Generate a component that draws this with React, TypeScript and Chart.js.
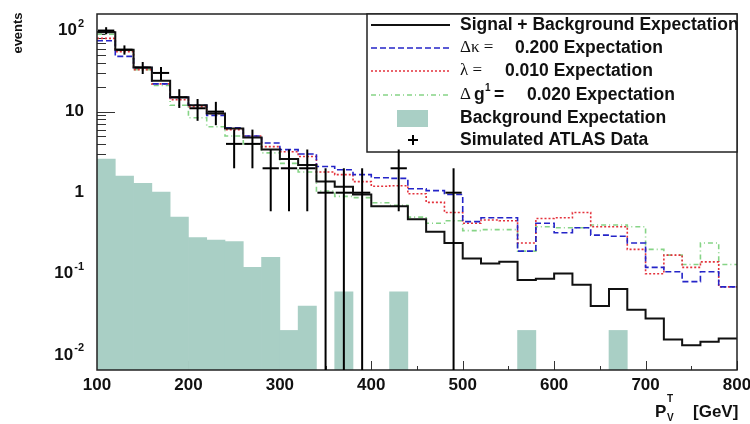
import React, { useEffect, useRef } from "react";
import { Chart, registerables } from "chart.js";

Chart.register(...registerables);

// ---------- data ----------
const binEdges = [
  100, 120, 140, 160, 180, 200, 220, 240, 260, 280, 300, 320, 340, 360, 380, 400, 420, 440,
  460, 480, 500, 520, 540, 560, 580, 600, 620, 640, 660, 680, 700, 720, 740, 760, 780, 800,
];

const signalPlusBkg = [
  95, 58, 35, 24, 15, 12, 9.5, 6.2, 4.8, 3.4,
  2.6, 2.2, 1.37, 1.18, 0.95, 0.68, 0.68, 0.47, 0.33, 0.24,
  0.154, 0.134, 0.141, 0.084, 0.087, 0.101, 0.073, 0.04, 0.065, 0.036,
  0.028, 0.0155, 0.0131, 0.0145, 0.0159,
];

const deltaKappaExp = [
  75, 48, 35, 22, 15, 12, 9, 6.3, 5, 4.1,
  3.4, 3.0, 2.1, 1.92, 1.67, 1.53, 1.5, 1.12, 1.06, 0.95,
  0.44, 0.49, 0.49, 0.19, 0.42, 0.32, 0.37, 0.3, 0.29, 0.24,
  0.12, 0.106, 0.08, 0.106, 0.069,
];

const lambdaExp = [
  80, 55, 33, 22, 14, 11.5, 9.5, 6, 5, 3.7,
  3.2, 2.8, 1.8, 1.67, 1.37, 1.2, 1.22, 0.97, 0.76, 0.57,
  0.42, 0.46, 0.45, 0.24, 0.48, 0.49, 0.57, 0.38, 0.38, 0.2,
  0.1, 0.17, 0.12, 0.14, 0.069,
];

const deltaG1Exp = [
  90, 57, 33, 21, 12, 8.4, 6.5, 5, 4, 3.1,
  2.3, 1.8, 1.05, 0.9, 0.87, 0.75, 0.7, 0.5, 0.42, 0.45,
  0.34, 0.35, 0.35, 0.19, 0.38, 0.37, 0.37, 0.4, 0.4, 0.38,
  0.2, 0.17, 0.13, 0.24, 0.13,
];

const backgroundExp = [
  2.6, 1.6, 1.3, 1.02, 0.5, 0.28, 0.26, 0.25, 0.12, 0.16,
  0.02, 0.04, 0, 0.06, 0, 0, 0.06, 0, 0, 0,
  0, 0, 0, 0.02, 0, 0, 0, 0, 0.02, 0,
  0, 0, 0, 0, 0,
];

const atlasData = [
  100, 58, 35, 30, 15, 11, 10, 4, 4, 2,
  2, 2, 1, 1, 1, 0, 2, 0, 0, 1,
  0, 0, 0, 0, 0, 0, 0, 0, 0, 0,
  0, 0, 0, 0, 0,
];

const atlasErr = [
  10, 7.6, 5.9, 5.5, 3.9, 3.3, 3.2, 2, 2, 1.41,
  1.41, 1.41, 1, 1, 1, 0, 1.41, 0, 0, 1,
  0, 0, 0, 0, 0, 0, 0, 0, 0, 0,
  0, 0, 0, 0, 0,
];

const xTickValues = [100, 200, 300, 400, 500, 600, 700, 800];
const xMinorTickValues = [150, 250, 350, 450, 550, 650, 750];
const yTickValues = [0.01, 0.1, 1, 10, 100];
const yTickLabels: [string, string][] = [
  ["10", "-2"],
  ["10", "-1"],
  ["1", ""],
  ["10", ""],
  ["10", "2"],
];

const Y_MIN = 0.0065;
const Y_MAX = 160;

const COLORS = {
  black: "#111111",
  blue: "#2424c8",
  red: "#e4323c",
  green: "#86d486",
  fill: "#a9cfc5",
};

const SANS = "'Liberation Sans', Arial, Helvetica, sans-serif";
const SERIF = "'Liberation Serif', 'Times New Roman', serif";

function stepPoints(values: number[]) {
  const pts = values.map((v, i) => ({ x: binEdges[i], y: v }));
  pts.push({ x: binEdges[values.length], y: values[values.length - 1] });
  return pts;
}

function barPoints(values: number[]) {
  return values.map((v, i) => ({
    x: (binEdges[i] + binEdges[i + 1]) / 2,
    y: v > 0 ? v : null,
  }));
}

function seg(ctx: CanvasRenderingContext2D, x0: number, y0: number, x1: number, y1: number) {
  ctx.beginPath();
  ctx.moveTo(x0, y0);
  ctx.lineTo(x1, y1);
  ctx.stroke();
}

const rootPlugin = {
  id: "rootStyle",
  beforeDatasetsDraw(chart: any) {
    const { ctx, chartArea: a, scales } = chart;
    const x = scales.x;
    const y = scales.y;
    ctx.save();
    ctx.strokeStyle = "#333";
    ctx.lineWidth = 1;
    for (let e = -3; e <= 2; e++) {
      for (let m = 1; m <= 9; m++) {
        const v = m * Math.pow(10, e);
        if (v < Y_MIN || v > Y_MAX) continue;
        const py = Math.round(y.getPixelForValue(v)) + 0.5;
        seg(ctx, a.left, py, a.left + (m === 1 ? 18 : 9), py);
      }
    }
    xTickValues.forEach((v) => {
      const px = Math.round(x.getPixelForValue(v)) + 0.5;
      seg(ctx, px, a.bottom, px, a.bottom - 9);
    });
    xMinorTickValues.forEach((v) => {
      const px = Math.round(x.getPixelForValue(v)) + 0.5;
      seg(ctx, px, a.bottom, px, a.bottom - 4);
    });
    ctx.restore();
  },
  afterDatasetsDraw(chart: any) {
    const { ctx, chartArea: a, scales } = chart;
    const x = scales.x;
    const y = scales.y;
    ctx.save();

    // frame
    ctx.strokeStyle = "#222";
    ctx.lineWidth = 1.5;
    ctx.strokeRect(a.left, a.top, a.right - a.left, a.bottom - a.top);

    // legend box
    const lx0 = 367;
    const lx1 = a.right;
    const ly0 = a.top;
    const ly1 = 152;
    ctx.fillStyle = "#ffffff";
    ctx.fillRect(lx0, ly0, lx1 - lx0, ly1 - ly0);
    ctx.strokeStyle = "#222";
    ctx.lineWidth = 1.5;
    ctx.strokeRect(lx0, ly0, lx1 - lx0, ly1 - ly0);

    const rows = [25, 48, 71, 95, 118, 140];
    const sx0 = 371;
    const sx1 = 450;
    const tx = 460;

    ctx.lineWidth = 2;
    ctx.strokeStyle = COLORS.black;
    ctx.setLineDash([]);
    seg(ctx, sx0, rows[0], sx1, rows[0]);
    ctx.lineWidth = 1.6;
    ctx.strokeStyle = COLORS.blue;
    ctx.setLineDash([6, 3]);
    seg(ctx, sx0, rows[1], sx1, rows[1]);
    ctx.strokeStyle = COLORS.red;
    ctx.setLineDash([2, 2]);
    seg(ctx, sx0, rows[2], sx1, rows[2]);
    ctx.strokeStyle = COLORS.green;
    ctx.setLineDash([5, 3, 1, 3]);
    seg(ctx, sx0, rows[3], sx1, rows[3]);
    ctx.setLineDash([]);
    ctx.fillStyle = COLORS.fill;
    ctx.fillRect(397, rows[4] - 8, 31, 17);
    ctx.strokeStyle = "#000";
    ctx.lineWidth = 2;
    seg(ctx, 408, rows[5], 418, rows[5]);
    seg(ctx, 413, rows[5] - 5, 413, rows[5] + 5);

    ctx.fillStyle = "#111";
    ctx.textBaseline = "middle";
    ctx.textAlign = "left";
    const bold = `bold 17.5px ${SANS}`;
    ctx.font = bold;
    ctx.fillText("Signal + Background Expectation", tx, rows[0]);

    ctx.font = `17px ${SERIF}`;
    ctx.fillText("\u0394\u03ba =", tx, rows[1]);
    ctx.font = bold;
    ctx.fillText("0.200 Expectation", 515, rows[1]);

    ctx.font = `17px ${SERIF}`;
    ctx.fillText("\u03bb =", tx, rows[2]);
    ctx.font = bold;
    ctx.fillText("0.010 Expectation", 505, rows[2]);

    ctx.font = `17px ${SERIF}`;
    ctx.fillText("\u0394", tx, rows[3]);
    ctx.font = bold;
    ctx.fillText("g", 474, rows[3]);
    ctx.font = `bold 10px ${SANS}`;
    ctx.fillText("1", 485, rows[3] - 7);
    ctx.font = bold;
    ctx.fillText("=", 494, rows[3]);
    ctx.fillText("0.020 Expectation", 527, rows[3]);

    ctx.fillText("Background Expectation", tx, rows[4]);
    ctx.fillText("Simulated ATLAS Data", tx, rows[5]);

    // ATLAS data crosses
    ctx.save();
    ctx.beginPath();
    ctx.rect(a.left, a.top, a.right - a.left, a.bottom - a.top);
    ctx.clip();
    ctx.strokeStyle = "#000";
    ctx.lineWidth = 2;
    for (let i = 0; i < atlasData.length; i++) {
      const n = atlasData[i];
      if (!(n > 0)) continue;
      const x0 = x.getPixelForValue(binEdges[i]);
      const x1 = x.getPixelForValue(binEdges[i + 1]);
      const xc = (x0 + x1) / 2;
      const yc = y.getPixelForValue(n);
      const lo = Math.max(n - atlasErr[i], Y_MIN);
      const yl = y.getPixelForValue(lo);
      const yh = y.getPixelForValue(n + atlasErr[i]);
      seg(ctx, x0 + 1, yc, x1 - 1, yc);
      seg(ctx, xc, yh, xc, Math.min(yl, a.bottom));
    }
    ctx.restore();

    // y tick labels
    ctx.fillStyle = "#111";
    ctx.textBaseline = "middle";
    yTickValues.forEach((v, i) => {
      const [base, sup] = yTickLabels[i];
      const py = y.getPixelForValue(v);
      const right = 84;
      ctx.font = `bold 11px ${SANS}`;
      const wSup = sup ? ctx.measureText(sup).width + 1 : 0;
      ctx.font = `bold 17px ${SANS}`;
      ctx.textAlign = "right";
      ctx.fillText(base, right - wSup, py);
      if (sup) {
        ctx.font = `bold 11px ${SANS}`;
        ctx.textAlign = "left";
        ctx.fillText(sup, right - wSup + 1, py - 7);
      }
    });

    // x tick labels
    ctx.font = `bold 17px ${SANS}`;
    ctx.textAlign = "center";
    xTickValues.forEach((v) => {
      ctx.fillText(String(v), x.getPixelForValue(v), 385);
    });

    // y title
    ctx.save();
    ctx.translate(18, 33);
    ctx.rotate(-Math.PI / 2);
    ctx.font = `bold 13px ${SANS}`;
    ctx.textAlign = "center";
    ctx.fillText("events", 0, 0);
    ctx.restore();

    // x title
    ctx.textBaseline = "alphabetic";
    ctx.textAlign = "left";
    ctx.font = `bold 17px ${SANS}`;
    ctx.fillText("P", 655, 417);
    ctx.font = `bold 10px ${SANS}`;
    ctx.fillText("T", 667, 402);
    ctx.fillText("V", 667, 421);
    ctx.font = `bold 17px ${SANS}`;
    ctx.fillText("[GeV]", 693, 417);

    ctx.restore();
  },
};

export default function App() {
  const ref = useRef<HTMLCanvasElement>(null);
  useEffect(() => {
    const canvas = ref.current;
    if (!canvas) return;
    const chart = new Chart(canvas, {
      type: "line",
      data: {
        datasets: [
          {
            type: "line",
            label: "Signal + Background Expectation",
            data: stepPoints(signalPlusBkg),
            borderColor: COLORS.black,
            borderWidth: 2,
            stepped: true,
            pointRadius: 0,
            fill: false,
            order: 1,
          },
          {
            type: "line",
            label: "\u0394\u03ba = 0.200 Expectation",
            data: stepPoints(deltaKappaExp),
            borderColor: COLORS.blue,
            borderWidth: 1.6,
            borderDash: [6, 3],
            stepped: true,
            pointRadius: 0,
            fill: false,
            order: 2,
          },
          {
            type: "line",
            label: "\u03bb = 0.010 Expectation",
            data: stepPoints(lambdaExp),
            borderColor: COLORS.red,
            borderWidth: 1.6,
            borderDash: [2, 2],
            stepped: true,
            pointRadius: 0,
            fill: false,
            order: 3,
          },
          {
            type: "line",
            label: "\u0394g1 = 0.020 Expectation",
            data: stepPoints(deltaG1Exp),
            borderColor: COLORS.green,
            borderWidth: 1.6,
            borderDash: [5, 3, 1, 3],
            stepped: true,
            pointRadius: 0,
            fill: false,
            order: 4,
          },
          {
            type: "bar",
            label: "Background Expectation",
            data: barPoints(backgroundExp),
            backgroundColor: COLORS.fill,
            borderWidth: 0,
            barPercentage: 1,
            categoryPercentage: 1,
            base: Y_MIN,
            order: 10,
          },
        ] as any,
      },
      options: {
        responsive: false,
        animation: false,
        devicePixelRatio: 1,
        events: [],
        layout: { padding: { left: 97, top: 14, right: 13, bottom: 54 } },
        scales: {
          x: { type: "linear", min: 100, max: 800, offset: false, display: false },
          y: { type: "logarithmic", min: Y_MIN, max: Y_MAX, display: false },
        },
        plugins: {
          legend: { display: false },
          tooltip: { enabled: false },
        },
      } as any,
      plugins: [rootPlugin],
    });
    return () => chart.destroy();
  }, []);

  return (
    <div style={{ position: "absolute", left: 0, top: 0, width: 750, height: 424, background: "#fff" }}>
      <canvas ref={ref} width={750} height={424} style={{ display: "block", width: 750, height: 424 }} />
    </div>
  );
}
